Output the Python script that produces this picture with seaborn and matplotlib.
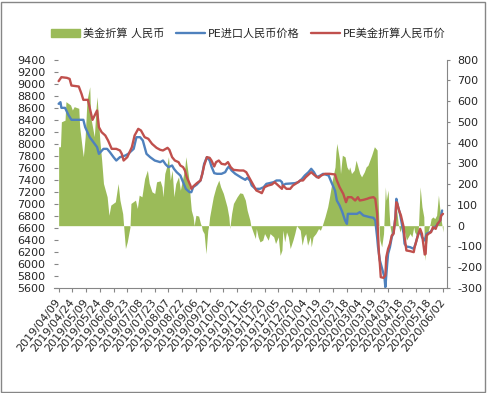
import numpy as np
import pandas as pd
import matplotlib
matplotlib.use('Agg')
import matplotlib.pyplot as plt
import matplotlib.transforms as mtransforms
from matplotlib.patches import Rectangle, Patch
from matplotlib.lines import Line2D
import seaborn as sns

sns.set_style('white')
plt.rcParams['font.family'] = ['DejaVu Sans', 'Noto Sans CJK SC']
plt.rcParams['axes.unicode_minus'] = False

START = pd.Timestamp('2019-04-09')

# days counted from 2019/04/09
blue_days = [0, 2, 3, 7, 11, 14, 27, 29, 34, 38, 42, 44, 49, 53, 56, 60, 63, 67, 73, 76,
             82, 85, 89, 92, 96, 100, 105, 111, 114, 117, 120, 124, 126, 129, 133, 136, 139, 143, 145, 147,
             151, 155, 157, 159, 162, 165, 167, 170, 173, 178, 182, 184, 186, 189, 193, 196, 200, 204, 206, 209,
             211, 215, 220, 224, 227, 235, 238, 242, 244, 245, 248, 258, 262, 266, 269, 273, 276, 279, 282, 286,
             289, 295, 298, 302, 304, 307, 310, 313, 315, 316, 322, 326, 329, 333, 337, 340, 344, 346, 348, 349,
             351, 353, 356, 357, 359, 360, 362, 364, 366, 368, 369, 371, 373, 375, 377, 378, 380, 384, 388, 390,
             393, 395, 397, 400, 402, 406, 409, 413, 417, 419]
blue_vals = [8663, 8690, 8596, 8596, 8469, 8397, 8397, 8275, 8108, 8025, 7942, 7831, 7914, 7914, 7859, 7776, 7720, 7776, 7804, 7831,
             7914, 8108, 8108, 8053, 7831, 7776, 7720, 7693, 7720, 7654, 7610, 7637, 7582, 7526, 7471, 7360, 7249, 7194, 7194, 7277,
             7321, 7388, 7499, 7665, 7776, 7720, 7621, 7510, 7499, 7499, 7526, 7582, 7621, 7554, 7499, 7471, 7432, 7399, 7432, 7388,
             7305, 7249, 7249, 7277, 7332, 7360, 7388, 7388, 7360, 7305, 7332, 7343, 7360, 7416, 7471, 7526, 7582, 7526, 7443, 7471,
             7499, 7471, 7360, 7222, 7055, 6972, 6861, 6722, 6667, 6833, 6833, 6833, 6861, 6806, 6789, 6778, 6767, 6723, 6445, 6279,
             6057, 5947, 5780, 5614, 6002, 6168, 6279, 6445, 6529, 6778, 7083, 6944, 6833, 6667, 6501, 6335, 6290, 6279, 6251, 6335,
             6501, 6556, 6445, 6390, 6501, 6529, 6584, 6639, 6723, 6889]

red_days = [0, 3, 9, 12, 14, 22, 25, 27, 32, 37, 42, 44, 47, 51, 54, 58, 63, 67, 69, 71,
            75, 80, 83, 87, 90, 94, 98, 102, 107, 111, 114, 117, 119, 121, 124, 127, 131, 133, 136, 138,
            140, 144, 145, 147, 151, 155, 157, 159, 162, 165, 167, 170, 172, 175, 178, 182, 185, 188, 191, 198,
            202, 205, 209, 213, 216, 220, 222, 225, 229, 233, 236, 240, 244, 245, 249, 253, 256, 260, 264, 267,
            270, 274, 276, 280, 284, 287, 291, 296, 302, 304, 307, 311, 314, 316, 320, 324, 327, 329, 333, 337,
            340, 344, 346, 348, 349, 350, 351, 352, 355, 357, 358, 360, 362, 364, 366, 368, 369, 370, 372, 374,
            377, 378, 380, 384, 388, 389, 392, 395, 397, 400, 401, 402, 404, 407, 409, 412, 414, 417, 418, 420]
red_vals = [9040, 9106, 9095, 9078, 8967, 8951, 8829, 8729, 8729, 8396, 8552, 8275, 8191, 8136, 8053, 7914, 7914, 7887, 7831, 7720,
            7776, 7942, 8136, 8247, 8219, 8108, 8081, 7998, 7931, 7898, 7887, 7914, 7931, 7898, 7776, 7720, 7693, 7637, 7610, 7554,
            7443, 7305, 7249, 7288, 7343, 7388, 7499, 7637, 7776, 7765, 7720, 7621, 7693, 7720, 7665, 7654, 7693, 7610, 7565, 7554,
            7554, 7526, 7416, 7305, 7222, 7194, 7177, 7277, 7305, 7321, 7360, 7305, 7249, 7305, 7249, 7249, 7305, 7343, 7388, 7388,
            7443, 7499, 7526, 7471, 7432, 7471, 7499, 7499, 7488, 7388, 7277, 7166, 7027, 7110, 7110, 7055, 7110, 7055, 7066, 7083,
            7100, 7111, 7083, 6833, 6501, 6168, 6002, 5780, 5769, 5808, 6113, 6251, 6335, 6473, 6501, 6778, 7027, 7000, 6889, 6806,
            6612, 6445, 6224, 6213, 6196, 6279, 6445, 6584, 6501, 6157, 6168, 6473, 6501, 6529, 6612, 6584, 6667, 6723, 6806, 6833]

green_days = [0, 2, 3, 7, 8, 13, 15, 17, 22, 23, 26, 27, 29, 31, 34, 35, 37, 39, 41, 42,
              45, 47, 49, 53, 55, 57, 62, 65, 67, 70, 71, 73, 75, 78, 79, 84, 86, 88, 91, 94,
              97, 99, 102, 105, 107, 111, 113, 114, 116, 118, 120, 122, 124, 126, 128, 131, 133, 136, 138, 139,
              142, 144, 145, 147, 148, 150, 153, 155, 156, 157, 159, 161, 163, 164, 165, 167, 169, 172, 175, 177,
              180, 184, 186, 187, 189, 191, 193, 195, 198, 201, 204, 206, 209, 210, 213, 215, 216, 218, 220, 223,
              225, 229, 231, 235, 237, 240, 242, 244, 245, 247, 249, 251, 253, 256, 258, 260, 264, 266, 268, 270,
              272, 275, 276, 278, 281, 284, 286, 288, 291, 294, 296, 299, 302, 303, 304, 307, 308, 310, 313, 315,
              317, 318, 320, 323, 325, 327, 329, 331, 334, 336, 338, 340, 342, 345, 348, 349, 350, 351, 353, 355,
              357, 358, 360, 361, 362, 364, 366, 367, 368, 369, 371, 373, 375, 377, 378, 380, 382, 384, 386, 388,
              389, 391, 393, 395, 397, 399, 400, 402, 404, 406, 407, 409, 411, 413, 415, 417, 418, 420]
green_vals = [380, 380, 500, 508, 597, 581, 557, 573, 565, 476, 364, 332, 428, 605, 669, 524, 476, 428, 573, 621,
              412, 316, 203, 139, 50, 99, 115, 203, 123, 58, 0, -110, -78, -6, 107, 123, 83, 147, 139, 227,
              267, 203, 163, 155, 211, 216, 187, 139, 251, 283, 332, 219, 267, 139, 203, 235, 171, 235, 283, 332,
              235, 123, 74, 42, 0, 50, 46, 10, 0, -22, -38, -135, -22, 0, 42, 91, 139, 187, 219, 187,
              155, 91, 42, -14, 58, 107, 123, 139, 158, 155, 123, 74, 26, 0, -38, -62, -14, -54, -78, -70,
              -38, -70, -38, -54, -86, -54, -143, -118, -22, -78, -30, -54, -110, -70, -38, 0, -22, -94, -54, -38,
              -94, -54, -102, -54, -38, -14, -22, 0, 42, 91, 139, 219, 283, 356, 396, 315, 251, 339, 331, 283,
              267, 283, 251, 267, 315, 283, 251, 235, 259, 283, 291, 315, 339, 380, 364, 139, 0, -70, -102, -38,
              187, 123, 171, 74, 0, -54, -38, 0, 123, 91, 10, -30, 0, -6, -30, -70, -54, -38, -54, -6,
              -30, -46, -22, 187, 91, 42, -167, -86, -22, 10, 34, 42, 34, 50, 147, 58, 26, -30]

tick_labels = ['2019/04/09', '2019/04/24', '2019/05/09', '2019/05/24', '2019/06/08', '2019/06/23',
               '2019/07/08', '2019/07/23', '2019/08/07', '2019/08/22', '2019/09/06', '2019/09/21',
               '2019/10/06', '2019/10/21', '2019/11/05', '2019/11/20', '2019/12/05', '2019/12/20',
               '2020/01/04', '2020/01/19', '2020/02/03', '2020/02/18', '2020/03/04', '2020/03/19',
               '2020/04/03', '2020/04/18', '2020/05/03', '2020/05/18', '2020/06/02']

GREEN = '#9BBB59'
BLUE = '#4F81BD'
RED = '#C0504D'
GRAY = '#868686'


def to_dates(days):
    return START + pd.to_timedelta(days, unit='D')


df_blue = pd.DataFrame({'Date': to_dates(blue_days), 'Price': blue_vals})
df_red = pd.DataFrame({'Date': to_dates(red_days), 'Price': red_vals})
df_green = pd.DataFrame({'Date': to_dates(green_days), 'Diff': green_vals})

fig = plt.figure(figsize=(4.87, 3.93), dpi=100)
ax = fig.add_axes([0.1099, 0.2672, 0.8073, 0.5814])
ax2 = ax.twinx()

ax2.fill_between(df_green['Date'], 0, df_green['Diff'], color=GREEN, linewidth=0)
sns.lineplot(data=df_blue, x='Date', y='Price', ax=ax, color=BLUE, linewidth=1.7)
sns.lineplot(data=df_red, x='Date', y='Price', ax=ax, color=RED, linewidth=1.7)

ax.set_zorder(ax2.get_zorder() + 1)
ax.patch.set_visible(False)

ax.set_ylim(5600, 9400)
ax.set_yticks(np.arange(5600, 9401, 200))
ax2.set_ylim(-300, 800)
ax2.set_yticks(np.arange(-300, 801, 100))
ax.set_xlim(START - pd.Timedelta(hours=134), START + pd.Timedelta(days=424))

tick_dates = pd.to_datetime(tick_labels, format='%Y/%m/%d')
ax.set_xticks(tick_dates)
ax.set_xticklabels(tick_labels, rotation=52, ha='right', va='center', rotation_mode='anchor')
offset = mtransforms.ScaledTranslation(3 / 100, 0, fig.dpi_scale_trans)
for lab in ax.get_xticklabels():
    lab.set_transform(lab.get_transform() + offset)

ax.set_xlabel('')
ax.set_ylabel('')
ax2.set_ylabel('')

for s in ['left', 'top', 'right']:
    ax.spines[s].set_visible(False)
ax.spines['bottom'].set_color(GRAY)
for s in ['left', 'top', 'bottom']:
    ax2.spines[s].set_visible(False)
ax2.spines['right'].set_color(GRAY)

ax.tick_params(axis='y', direction='in', length=3, color=GRAY, labelsize=8, pad=6, left=True)
ax.tick_params(axis='x', direction='out', length=3, color=GRAY, labelsize=8, pad=6, bottom=True)
ax2.tick_params(axis='y', direction='out', length=2.5, color=GRAY, labelsize=8, pad=5, right=True)

handles = [Patch(color=GREEN),
           Line2D([0], [0], color=BLUE, lw=1.7),
           Line2D([0], [0], color=RED, lw=1.7)]
labels = ['美金折算 人民币', 'PE进口人民币价格', 'PE美金折算人民币价']
fig.legend(handles, labels, loc='center', bbox_to_anchor=(0.51, 0.915), ncol=3, frameon=False,
           fontsize=8, handlelength=2.6, handletextpad=0.3, columnspacing=1.0)

fig.patches.append(Rectangle((0.002, 0.003), 0.994, 0.993, transform=fig.transFigure,
                             fill=False, edgecolor=GRAY, linewidth=1))

fig.savefig('out.png', dpi=100)
